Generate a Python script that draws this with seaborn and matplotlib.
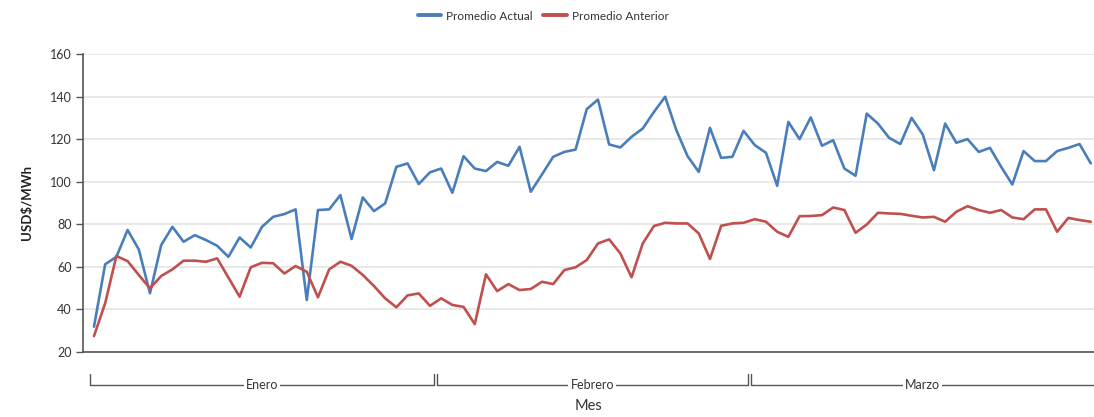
import numpy as np
import pandas as pd
import matplotlib
matplotlib.use("Agg")
import matplotlib.pyplot as plt
import matplotlib.transforms as mtransforms
from matplotlib.lines import Line2D
import seaborn as sns

# ---------------- data ----------------
months = ["Enero", "Febrero", "Marzo"]
days_per_month = [31, 28, 31]
series_names = ["Promedio Actual", "Promedio Anterior"]
y_ticks = [20, 40, 60, 80, 100, 120, 140, 160]

promedio_actual = [
    31.9, 61.2, 64.7, 77.3, 68.2, 47.6, 70.2, 78.8, 71.8, 74.9,
    72.6, 69.9, 64.7, 73.8, 69.1, 78.8, 83.5, 84.8, 87.0, 44.4,
    86.7, 87.0, 93.7, 73.1, 92.6, 86.2, 89.8, 107.0, 108.6, 98.9,
    104.4, 106.2, 94.8, 112.0, 106.2, 105.0, 109.3, 107.5, 116.4, 95.3,
    103.4, 111.7, 114.0, 115.1, 134.1, 138.6, 117.5, 116.1, 121.1, 125.0,
    132.8, 139.9, 124.2, 112.0, 104.6, 125.3, 111.2, 111.7, 123.9, 117.2,
    113.6, 98.1, 128.1, 120.0, 130.2, 116.9, 119.5, 106.2, 102.8, 132.0,
    127.3, 120.6, 117.7, 130.0, 122.2, 105.4, 127.3, 118.3, 120.0, 114.0,
    115.9, 107.0, 98.7, 114.4, 109.7, 109.7, 114.4, 115.9, 117.7, 108.6,
]
promedio_anterior = [
    27.5, 42.9, 65.1, 62.7, 56.2, 49.9, 55.7, 58.8, 62.9, 62.9,
    62.4, 64.0, 55.0, 46.0, 59.8, 61.9, 61.7, 56.9, 60.4, 57.7,
    45.7, 58.8, 62.4, 60.5, 56.2, 51.0, 45.2, 41.0, 46.6, 47.5,
    41.7, 45.2, 42.1, 41.2, 33.1, 56.5, 48.6, 51.9, 49.1, 49.6,
    53.0, 51.9, 58.5, 59.8, 63.2, 71.0, 72.9, 66.3, 55.1, 71.0,
    79.2, 80.7, 80.4, 80.4, 75.7, 63.7, 79.3, 80.4, 80.7, 82.4,
    81.2, 76.5, 74.1, 83.8, 83.9, 84.3, 87.9, 86.7, 76.0, 79.9,
    85.4, 85.1, 84.9, 84.0, 83.2, 83.5, 81.2, 85.9, 88.5, 86.7,
    85.4, 86.7, 83.2, 82.4, 87.0, 87.0, 76.5, 83.0, 82.0, 81.2,
]

colors = {"Promedio Actual": "#4A7EBB", "Promedio Anterior": "#C0504D"}

n = len(promedio_actual)
df = pd.DataFrame({
    "dia": np.concatenate([np.arange(n), np.arange(n)]),
    "valor": promedio_actual + promedio_anterior,
    "serie": [series_names[0]] * n + [series_names[1]] * n,
})

# ---------------- style ----------------
sns.set_style("white")
plt.rcParams["font.family"] = ["Lato", "DejaVu Sans"]

W, H = 1094, 417
fig = plt.figure(figsize=(W / 100, H / 100), dpi=100)
ax_left, ax_right, ax_bottom, ax_top = 83, 1094, 352, 54
ax = fig.add_axes([ax_left / W, (H - ax_bottom) / H,
                   (ax_right - ax_left) / W, (ax_bottom - ax_top) / H])

sns.lineplot(data=df, x="dia", y="valor", hue="serie", palette=colors,
             linewidth=1.9, ax=ax, legend=False, zorder=3)

ax.set_ylim(y_ticks[0], y_ticks[-1])
ax.set_yticks(y_ticks)
ax.set_xlim(-0.98, n - 0.71)
ax.set_xticks([])
ax.yaxis.grid(True, color="#e3e3e3", linewidth=1.1)
ax.xaxis.grid(False)
for s in ["top", "right"]:
    ax.spines[s].set_visible(False)
for s in ["left", "bottom"]:
    ax.spines[s].set_color("#555555")
    ax.spines[s].set_linewidth(1.2)
ax.tick_params(axis="y", left=True, length=5, width=1, color="#555555",
               labelsize=9, labelcolor="#333333", pad=3)

ax.set_ylabel("USD$/MWh", fontsize=9.5, fontweight="bold", color="#222222")
ax.yaxis.set_label_coords((33 - ax_left) / (ax_right - ax_left), 0.5)
ax.set_xlabel("Mes", fontsize=10.5, color="#333333")
ax.xaxis.set_label_coords(0.5, (ax_bottom - 399) / (ax_bottom - ax_top))

# ---------------- month brackets ----------------
trans = mtransforms.blended_transform_factory(ax.transData, ax.transAxes)
y_line = (ax_bottom - 385) / (ax_bottom - ax_top)
y_tick = (ax_bottom - 374) / (ax_bottom - ax_top)
start = -0.5
gap = 0.13
for name, d in zip(months, days_per_month):
    s, e = start + gap, start + d - gap
    ax.plot([s, s, e, e], [y_tick, y_line, y_line, y_tick], transform=trans,
            clip_on=False, color="#555555", linewidth=1.0)
    ax.text(start + d / 2, y_line, name, transform=trans, ha="center",
            va="center", fontsize=9, color="#333333",
            bbox=dict(facecolor="white", edgecolor="none", pad=1.5))
    start += d

# ---------------- legend ----------------
handles = [Line2D([0], [0], color=colors[nm], linewidth=2.8) for nm in series_names]
fig.legend(handles, series_names, loc="center", bbox_to_anchor=(543 / W, 1 - 16 / H),
           ncol=2, frameon=False, fontsize=8.5, handlelength=2.0,
           columnspacing=0.9, handletextpad=0.4, labelcolor="#333333")

fig.savefig("out.png", dpi=100)
